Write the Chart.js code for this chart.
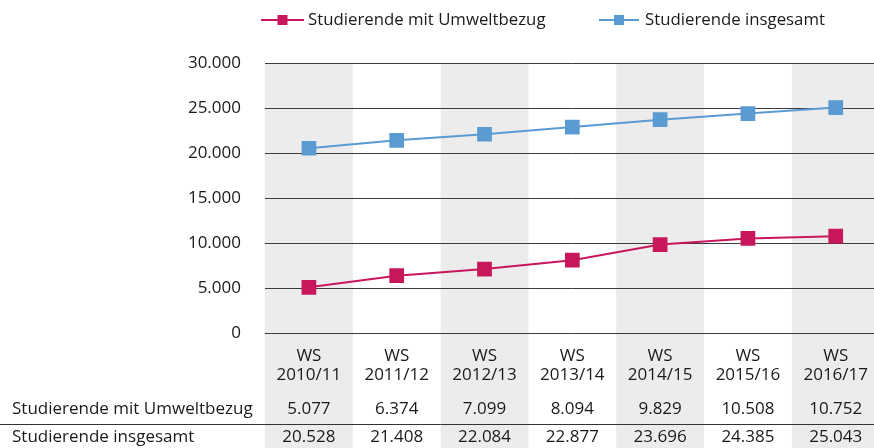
<!DOCTYPE html>
<html>
<head>
<meta charset="utf-8">
<script src="https://cdn.jsdelivr.net/npm/chart.js@4.4.1/dist/chart.umd.min.js"></script>
<style>
  html, body { margin: 0; padding: 0; background: #fff; overflow: hidden; }
  /* das Original ist rechts angeschnitten: Canvas etwas breiter, Rest abgeschnitten */
  #wrap { width: 874px; height: 448px; overflow: hidden; }
</style>
</head>
<body>
<div id="wrap"><canvas id="graph" width="881" height="448"></canvas></div>
<script>
// Semester und Werte
var semester = [["WS", "2010/11"], ["WS", "2011/12"], ["WS", "2012/13"], ["WS", "2013/14"], ["WS", "2014/15"], ["WS", "2015/16"], ["WS", "2016/17"]];
var umweltbezug = [5077, 6374, 7099, 8094, 9829, 10508, 10752];
var insgesamt = [20528, 21408, 22084, 22877, 23696, 24385, 25043];
var serienNamen = ["Studierende mit Umweltbezug", "Studierende insgesamt"];
var farben = ["#c8175d", "#5a9bd2"];

var schrift = "'Open Sans', sans-serif";

function punktFormat(v) {
    return String(Math.round(v)).replace(/\B(?=(\d{3})+(?!\d))/g, ".");
}

// graue Spalten hinter dem Diagramm
var spaltenPlugin = {
    id: "spalten",
    beforeDraw: function(chart) {
        var ctx = chart.ctx, x = chart.scales.x, area = chart.chartArea;
        var w = x.getPixelForValue(1) - x.getPixelForValue(0);
        ctx.save();
        ctx.fillStyle = "#ececec";
        for (var i = 0; i < semester.length; i += 2) {
            var c = x.getPixelForValue(i);
            ctx.fillRect(c - w / 2, area.top, w, chart.height - area.top);
        }
        ctx.restore();
    }
};

// Legende und Tabelle
var extrasPlugin = {
    id: "extras",
    afterDraw: function(chart) {
        var ctx = chart.ctx, x = chart.scales.x;
        ctx.save();
        ctx.textBaseline = "middle";
        ctx.fillStyle = "#1a1a1a";

        // Legende
        ctx.font = "16.8px " + schrift;
        var leg = [[261, 304, 308], [599, 639, 645]];
        leg.forEach(function(l, i) {
            ctx.strokeStyle = farben[i];
            ctx.lineWidth = 2;
            ctx.beginPath();
            ctx.moveTo(l[0], 20);
            ctx.lineTo(l[1], 20);
            ctx.stroke();
            ctx.fillStyle = farben[i];
            var m = (l[0] + l[1]) / 2;
            ctx.fillRect(m - 5, 15, 10, 10);
            ctx.fillStyle = "#1a1a1a";
            ctx.textAlign = "left";
            ctx.fillText(serienNamen[i], l[2], 20);
        });

        // Tabelle
        ctx.font = "17px " + schrift;
        var zeilen = [umweltbezug, insgesamt];
        var ys = [409, 437];
        zeilen.forEach(function(werte, r) {
            ctx.textAlign = "left";
            ctx.fillText(serienNamen[r], 12, ys[r]);
            ctx.textAlign = "center";
            werte.forEach(function(v, i) {
                ctx.fillText(punktFormat(v), x.getPixelForValue(i), ys[r]);
            });
        });
        ctx.strokeStyle = "#333";
        ctx.lineWidth = 1;
        ctx.beginPath();
        ctx.moveTo(0, 424.5);
        ctx.lineTo(chart.width, 424.5);
        ctx.stroke();
        ctx.restore();
    }
};

var grafico = document.getElementById("graph").getContext("2d");

var chart = new Chart(grafico, {
    type: "line",
    data: {
        labels: semester,
        datasets: [
            {
                label: serienNamen[0],
                data: umweltbezug,
                borderColor: farben[0],
                backgroundColor: farben[0],
                borderWidth: 2,
                pointStyle: "rect",
                pointRadius: 9,
                pointHoverRadius: 9,
                tension: 0
            },
            {
                label: serienNamen[1],
                data: insgesamt,
                borderColor: farben[1],
                backgroundColor: farben[1],
                borderWidth: 2,
                pointStyle: "rect",
                pointRadius: 9,
                pointHoverRadius: 9,
                tension: 0
            }
        ]
    },
    options: {
        responsive: false,
        animation: false,
        layout: { autoPadding: false, padding: { top: 63, right: 0, bottom: 0, left: 0 } },
        plugins: {
            legend: { display: false },
            tooltip: { enabled: false }
        },
        scales: {
            x: {
                offset: true,
                grid: { display: false, drawTicks: false },
                border: { display: false },
                ticks: {
                    color: "#1a1a1a",
                    font: { family: schrift, size: 17, lineHeight: 1.15 },
                    padding: 13,
                    maxRotation: 0,
                    autoSkip: false
                },
                afterFit: function(s) { s.height = 115; }
            },
            y: {
                min: 0,
                max: 30000,
                grid: { color: "#3c3c3c", lineWidth: 1, drawTicks: false },
                border: { display: false },
                ticks: {
                    stepSize: 5000,
                    color: "#1a1a1a",
                    font: { family: schrift, size: 17 },
                    padding: 24,
                    callback: function(v) { return punktFormat(v); }
                },
                afterFit: function(s) { s.width = 265; }
            }
        }
    },
    plugins: [spaltenPlugin, extrasPlugin]
});
</script>
</body>
</html>
